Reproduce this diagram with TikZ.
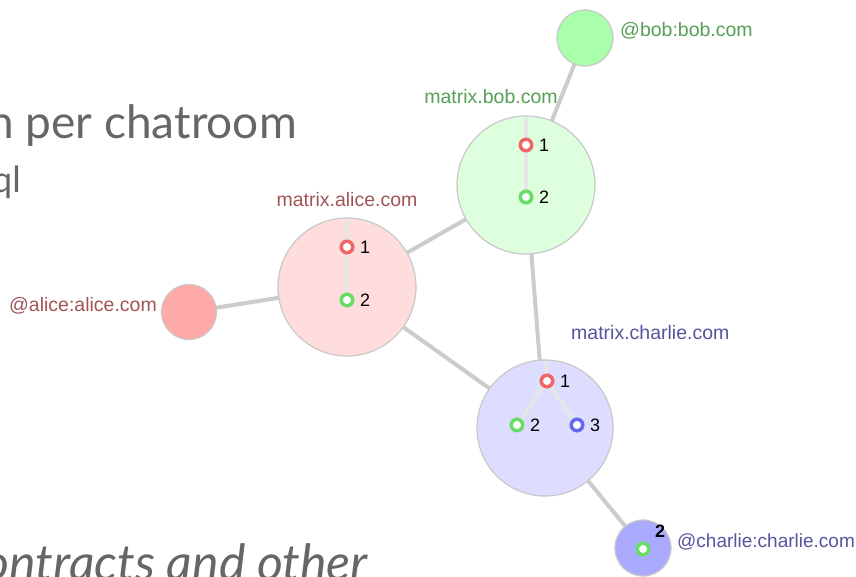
\documentclass[tikz,border=0pt]{standalone}
\usepackage{fontspec}
\setmainfont{Liberation Sans}
\newfontfamily\slidefont{Lato}
\definecolor{edgegray}{HTML}{CCCCCC}
\definecolor{inedge}{HTML}{E6E6E6}
\definecolor{rimgray}{HTML}{C8C8C8}
\definecolor{afill}{HTML}{FFDDDD}
\definecolor{bfill}{HTML}{DDFFDD}
\definecolor{cfill}{HTML}{DDDDFF}
\definecolor{aufill}{HTML}{FFAAAA}
\definecolor{bufill}{HTML}{AAFFAA}
\definecolor{cufill}{HTML}{AAAAFF}
\definecolor{ared}{HTML}{EE6666}
\definecolor{bgreen}{HTML}{66DD66}
\definecolor{cblue}{HTML}{6666EE}
\definecolor{alabel}{HTML}{A05555}
\definecolor{blabel}{HTML}{55A055}
\definecolor{clabel}{HTML}{5555A0}
\definecolor{slidegray}{HTML}{666666}
\begin{document}
\begin{tikzpicture}[x=1pt,y=-1pt,
  server/.style={circle,draw=rimgray,line width=1.2pt,minimum size=#1,inner sep=0pt},
  user/.style={circle,draw=rimgray,line width=1.2pt,minimum size=#1,inner sep=0pt},
  ev/.style={circle,draw=#1,line width=3.5pt,fill=white,minimum size=11.5pt,inner sep=0pt},
  evlab/.style={font=\fontsize{18}{18}\selectfont,anchor=west,inner sep=0pt},
  srvlab/.style={font=\fontsize{19.5}{19.5}\selectfont,inner sep=0pt},
  link/.style={draw=edgegray,line width=4pt},
  inlink/.style={draw=inedge,line width=4pt},
  slide/.style={font=\slidefont\fontsize{46}{46}\selectfont,text=slidegray,inner sep=0pt}]
\useasboundingbox (0,0) rectangle (856,576);
\clip (0,0) rectangle (856,576);
\fill[white] (0,0) rectangle (856,576);
% background slide text
\node[slide,anchor=base east] (t1) at (297,138) {n per chatroom};
\node[slide,anchor=base east,font=\slidefont\fontsize{36}{36}\selectfont] (t2) at (21,192) {ql};
\node[slide,anchor=base east,font=\slidefont\itshape\fontsize{50}{50}\selectfont] (t3) at (368,580) {ontracts and other};
% coordinates
\coordinate (A) at (347,287);
\coordinate (B) at (526,185);
\coordinate (C) at (545,428);
\coordinate (AU) at (189,312);
\coordinate (BU) at (585,38);
\coordinate (CU) at (643,548);
% edges
\draw[link] (BU) -- (B);
\draw[link] (AU) -- (A);
\draw[link] (A) -- (B);
\draw[link] (A) -- (C);
\draw[link] (B) -- (C);
\draw[link] (C) -- (CU);
% servers
\node[server=138pt,fill=afill] (alice) at (A) {};
\node[server=138pt,fill=bfill] (bob) at (B) {};
\node[server=136pt,fill=cfill] (charlie) at (C) {};
% users
\node[user=55pt,fill=aufill] (aliceu) at (AU) {};
\node[user=56pt,fill=bufill] (bobu) at (BU) {};
\node[user=56pt,fill=cufill] (charlieu) at (CU) {};
% inner edges
\coordinate (atop) at (347,219);
\coordinate (btop) at (526,117);
\coordinate (ctop) at (546,361);
\coordinate (a1) at (347,247);
\coordinate (a2) at (347,300);
\coordinate (b1) at (526,145);
\coordinate (b2) at (526,197);
\coordinate (c1) at (547,381);
\coordinate (c2) at (517,425);
\coordinate (c3) at (577,425);
\draw[inlink] (atop) -- (a1) -- (a2);
\draw[inlink] (btop) -- (b1) -- (b2);
\draw[inlink] (ctop) -- (c1);
\draw[inlink] (c1) -- (c2);
\draw[inlink] (c1) -- (c3);
% events
\node[ev=ared] (ea1) at (a1) {};
\node[ev=bgreen] (ea2) at (a2) {};
\node[ev=ared] (eb1) at (b1) {};
\node[ev=bgreen] (eb2) at (b2) {};
\node[ev=ared] (ec1) at (c1) {};
\node[ev=bgreen] (ec2) at (c2) {};
\node[ev=cblue] (ec3) at (c3) {};
\node[ev=bgreen] (ecu) at (643,549) {};
\node[evlab] (la1) at (360,247) {1};
\node[evlab] (la2) at (360,300) {2};
\node[evlab] (lb1) at (539,145) {1};
\node[evlab] (lb2) at (539,197) {2};
\node[evlab] (lc1) at (560,381) {1};
\node[evlab] (lc2) at (530,425) {2};
\node[evlab] (lc3) at (590,425) {3};
\node[evlab,font=\bfseries\fontsize{18}{18}\selectfont] (lcu) at (655,531) {2};
% labels
\node[srvlab,text=alabel] (alabel) at (347,200) {matrix.alice.com};
\node[srvlab,text=blabel] (blabel) at (491,97) {matrix.bob.com};
\node[srvlab,text=clabel,anchor=west] (clabel) at (571,333) {matrix.charlie.com};
\node[srvlab,text=alabel,anchor=east] (aulabel) at (157,306) {@alice:alice.com};
\node[srvlab,text=blabel,anchor=west] (bulabel) at (620,31) {@bob:bob.com};
\node[srvlab,text=clabel,anchor=west,font=\fontsize{19}{19}\selectfont] (culabel) at (677,542) {@charlie:charlie.com};
\end{tikzpicture}
\end{document}
